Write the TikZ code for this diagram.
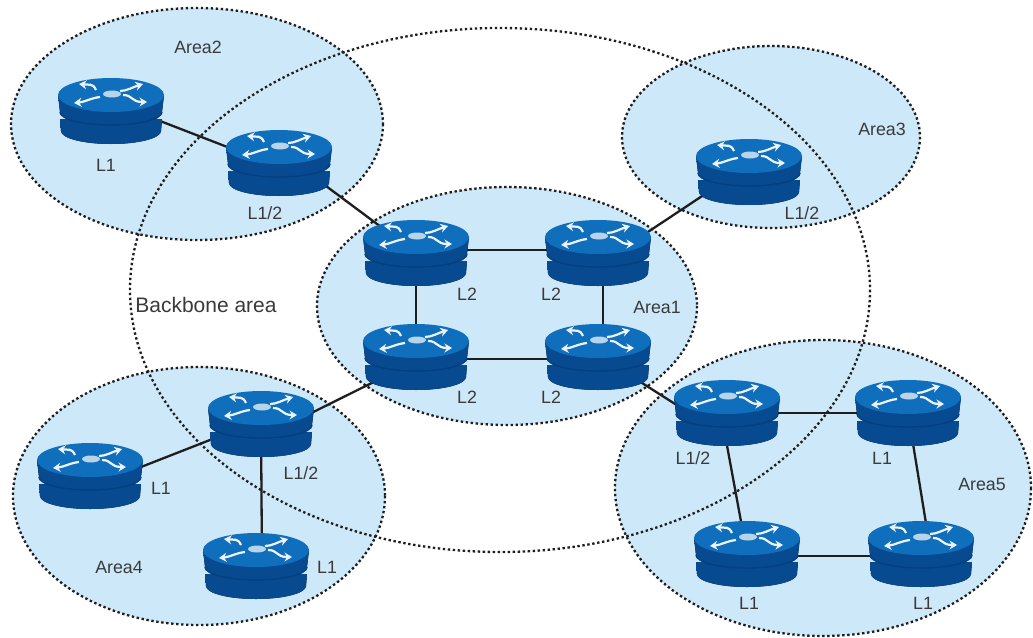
\documentclass[tikz,border=0pt]{standalone}
\usepackage{fontspec}
\setmainfont{Liberation Sans}
\usetikzlibrary{arrows.meta}
\definecolor{areafill}{HTML}{CDE8F9}
\definecolor{inkc}{HTML}{1E1E1E}
\definecolor{txt}{HTML}{3A3A3A}
\definecolor{rtop}{HTML}{0F6FBC}
\definecolor{rdark}{HTML}{074A90}
\definecolor{rgroove}{HTML}{053F80}
\definecolor{rmid}{HTML}{0F6DBF}
\definecolor{rlow}{HTML}{0F69B8}
\pgfdeclarelayer{areas}
\pgfdeclarelayer{links}
\pgfsetlayers{areas,links,main}
\tikzset{
  areazone/.style={fill=areafill,draw=none},
  dotline/.style={draw=inkc,line width=2.3pt,dash pattern=on 2.4pt off 2.6pt,fill=none},
  link/.style={draw=inkc,line width=2.3pt},
  lbl/.style={text=txt,font=\fontsize{17.8}{20}\selectfont,inner sep=0pt},
  rnode/.style={inner sep=0pt,minimum width=106pt,minimum height=66pt},
  rarrow/.style={draw=white!92!rtop,line width=2.2pt,-{Stealth[length=7.5pt,width=9pt]}}
}
\newcommand{\routerdraw}[2]{%
  \begin{scope}[shift={(#1,#2)}]
    \fill[left color=rdark,middle color=rlow,right color=rdark]
      (-51,8) -- (-50,20) arc[start angle=180,end angle=0,x radius=50,y radius=13] -- (51,8) -- cycle;
    \fill[left color=rdark,middle color=rmid,right color=rdark]
      (-53,-16) -- (-51,1) arc[start angle=180,end angle=0,x radius=51,y radius=13] -- (53,-16) -- cycle;
    \draw[rgroove,line width=1.4pt] (-51,1) arc[start angle=180,end angle=0,x radius=51,y radius=13];
    \fill[rtop] (0,-16) ellipse[x radius=53,y radius=17];
    \fill[white!70!rtop] (1,-17) ellipse[x radius=9,y radius=3.5];
    \draw[rarrow] (-15,-21) .. controls (-18,-28) and (-22,-26) .. (-32,-27);
    \draw[rarrow] (9,-20) .. controls (16,-20) and (22,-24) .. (32,-27);
    \draw[rarrow] (-11,-14) .. controls (-20,-13) and (-26,-9) .. (-37,-8);
    \draw[rarrow] (12,-16) .. controls (22,-16) and (20,-9) .. (36,-9);
  \end{scope}}
\begin{document}
\begin{tikzpicture}[x=1pt,y=-1pt]
\useasboundingbox (0,0) rectangle (1033,637);
\node[rnode] (a2a) at (111,111) {};
\node[rnode] (a2b) at (279,163) {};
\node[rnode] (a3a) at (749,172) {};
\node[rnode] (c1) at (416,253) {};
\node[rnode] (c2) at (598,253) {};
\node[rnode] (c3) at (416,357) {};
\node[rnode] (c4) at (598,357) {};
\node[rnode] (a4a) at (261,424) {};
\node[rnode] (a4b) at (90,476) {};
\node[rnode] (a4c) at (256,566) {};
\node[rnode] (a5a) at (727,413) {};
\node[rnode] (a5b) at (908,413) {};
\node[rnode] (a5c) at (747,554) {};
\node[rnode] (a5d) at (921,554) {};
\begin{pgfonlayer}{areas}
  \fill[white] (0,0) rectangle (1033,637);
  \path[areazone] (197,124) ellipse[x radius=186,y radius=116];
  \path[areazone] (771,137) ellipse[x radius=149,y radius=91];
  \path[areazone] (507,306) ellipse[x radius=190,y radius=119];
  \path[areazone] (199,496) ellipse[x radius=186,y radius=129];
  \path[areazone] (823,488) ellipse[x radius=208,y radius=148];
  \path[dotline] (197,124) ellipse[x radius=186,y radius=116];
  \path[dotline] (771,137) ellipse[x radius=149,y radius=91];
  \path[dotline] (507,306) ellipse[x radius=190,y radius=119];
  \path[dotline] (199,496) ellipse[x radius=186,y radius=129];
  \path[dotline] (823,488) ellipse[x radius=208,y radius=148];
  \path[dotline] (500,290) ellipse[x radius=370,y radius=262];
\end{pgfonlayer}
\begin{pgfonlayer}{links}
  \draw[link] ([yshift=9pt]a2a.center) -- ([yshift=-4pt]a2b.center);
  \draw[link] ([yshift=12pt]a2b.center) -- (c1.center);
  \draw[link] ([yshift=7pt]a3a.center) -- ([yshift=-12pt]c2.center);
  \draw[link] ([yshift=3pt]c1.center) -- ([yshift=3pt]c2.center);
  \draw[link] (c1.center) -- (c3.center);
  \draw[link] ([xshift=5pt]c2.center) -- ([xshift=5pt]c4.center);
  \draw[link] ([yshift=-2pt]c3.center) -- ([yshift=-2pt]c4.center);
  \draw[link] ([yshift=-4pt]c3.center) -- ([yshift=-14pt]a4a.center);
  \draw[link] ([yshift=2pt]c4.center) -- ([yshift=-24pt]a5a.center);
  \draw[link] ([yshift=4pt]a4a.center) -- ([yshift=-11pt]a4b.center);
  \draw[link] (a4a.center) -- ([xshift=6pt]a4c.center);
  \draw[link] (a5a.center) -- (a5b.center);
  \draw[link] ([xshift=-6pt]a5a.center) -- (a5c.center);
  \draw[link] (a5b.center) -- ([xshift=10pt]a5d.center);
  \draw[link] ([yshift=-2pt]a5c.center) -- ([yshift=-2pt]a5d.center);
\end{pgfonlayer}
\routerdraw{111}{111}\routerdraw{279}{163}\routerdraw{749}{172}
\routerdraw{416}{253}\routerdraw{598}{253}\routerdraw{416}{357}\routerdraw{598}{357}
\routerdraw{261}{424}\routerdraw{90}{476}\routerdraw{256}{566}
\routerdraw{727}{413}\routerdraw{908}{413}\routerdraw{747}{554}\routerdraw{921}{554}
\node[lbl] (t1) at (198,47) {Area2};
\node[lbl] (t2) at (106,165) {L1};
\node[lbl] (t3) at (265,213) {L1/2};
\node[lbl] (t4) at (882,129) {Area3};
\node[lbl] (t5) at (802,213) {L1/2};
\node[lbl,font=\fontsize{21}{23}\selectfont] (t6) at (206,305) {Backbone area};
\node[lbl] (t7) at (467,294) {L2};
\node[lbl] (t8) at (551,294) {L2};
\node[lbl] (t9) at (657,307) {Area1};
\node[lbl] (t10) at (467,397) {L2};
\node[lbl] (t11) at (551,397) {L2};
\node[lbl] (t12) at (119,567) {Area4};
\node[lbl] (t13) at (161,488) {L1};
\node[lbl] (t14) at (301,473) {L1/2};
\node[lbl] (t15) at (327,567) {L1};
\node[lbl] (t16) at (982,484) {Area5};
\node[lbl] (t17) at (693,458) {L1/2};
\node[lbl] (t18) at (882,458) {L1};
\node[lbl] (t19) at (749,603) {L1};
\node[lbl] (t20) at (923,603) {L1};
\end{tikzpicture}
\end{document}
